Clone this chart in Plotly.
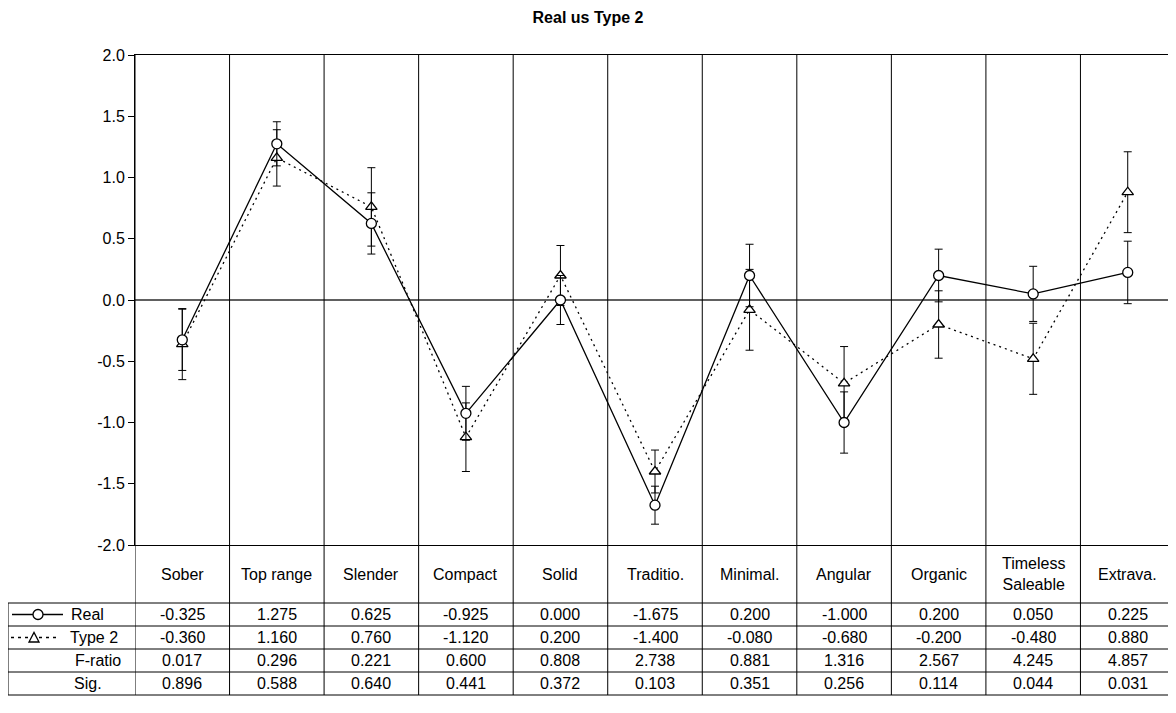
import plotly.graph_objects as go

categories = ["Sober", "Top range", "Slender", "Compact", "Solid", "Traditio.",
              "Minimal.", "Angular", "Organic", "Timeless<br>Saleable", "Extrava."]
real = [-0.325, 1.275, 0.625, -0.925, 0.000, -1.675, 0.200, -1.000, 0.200, 0.050, 0.225]
type2 = [-0.360, 1.160, 0.760, -1.120, 0.200, -1.400, -0.080, -0.680, -0.200, -0.480, 0.880]
f_ratio = [0.017, 0.296, 0.221, 0.600, 0.808, 2.738, 0.881, 1.316, 2.567, 4.245, 4.857]
sig = [0.896, 0.588, 0.640, 0.441, 0.372, 0.103, 0.351, 0.256, 0.114, 0.044, 0.031]
real_err = [0.25, 0.18, 0.25, 0.22, 0.20, 0.155, 0.255, 0.25, 0.215, 0.225, 0.255]
type2_err = [0.29, 0.23, 0.32, 0.28, 0.245, 0.175, 0.33, 0.30, 0.275, 0.29, 0.33]
y_ticks = [2.0, 1.5, 1.0, 0.5, 0.0, -0.5, -1.0, -1.5, -2.0]
y_tick_labels = ["2.0", "1.5", "1.0", "0.5", "0.0", "-0.5", "-1.0", "-1.5", "-2.0"]

OFF = 8                      # page body margin
W, H = 1176 - OFF, 713 - OFF
L, R, T, B = 135, 1175, 55, 545   # screen pixels of plot area
FONT = "Liberation Sans, Arial, sans-serif"
FS = 16

def px(X):
    return (X - L) / (R - L)

def py(Y):
    return (B - Y) / (B - T)

xs = list(range(len(categories)))

fig = go.Figure()
fig.add_trace(go.Scatter(
    x=xs, y=type2, mode="lines+markers", name="Type 2",
    line=dict(color="black", width=1.3, dash="2px,4px"),
    marker=dict(symbol="triangle-up", size=10, color="white",
                line=dict(color="black", width=1.3)),
    error_y=dict(type="data", array=type2_err, color="black", thickness=1, width=4),
))
fig.add_trace(go.Scatter(
    x=xs, y=real, mode="lines+markers", name="Real",
    line=dict(color="black", width=1.3),
    marker=dict(symbol="circle", size=10, color="white",
                line=dict(color="black", width=1.3)),
    error_y=dict(type="data", array=real_err, color="black", thickness=1, width=4),
))

shapes = []
for i in range(len(categories) + 1):
    shapes.append(dict(type="line", xref="x", yref="paper", x0=i - 0.5, x1=i - 0.5,
                       y0=1, y1=py(695), line=dict(color="black", width=1)))
row_lines = [603, 626, 649, 672, 695]
for Y in row_lines:
    shapes.append(dict(type="line", xref="paper", yref="paper", x0=px(8), x1=px(R),
                       y0=py(Y), y1=py(Y), line=dict(color="black", width=1)))
shapes.append(dict(type="line", xref="paper", yref="paper", x0=px(8), x1=px(8),
                   y0=py(603), y1=py(695), line=dict(color="black", width=1)))
yr = 614.5
shapes.append(dict(type="line", xref="paper", yref="paper", x0=px(12), x1=px(63),
                   y0=py(yr), y1=py(yr), line=dict(color="black", width=1.3)))
shapes.append(dict(type="circle", xref="paper", yref="paper",
                   x0=px(33), x1=px(43), y0=py(yr + 5), y1=py(yr - 5),
                   fillcolor="white", line=dict(color="black", width=1.3)))
yt = 637.5
shapes.append(dict(type="line", xref="paper", yref="paper", x0=px(11), x1=px(60),
                   y0=py(yt), y1=py(yt), line=dict(color="black", width=1.3, dash="3px,4px")))
tri = "M {} {} L {} {} L {} {} Z".format(px(29), py(yt + 4.5), px(39), py(yt + 4.5),
                                         px(34), py(yt - 5))
shapes.append(dict(type="path", xref="paper", yref="paper", path=tri,
                   fillcolor="white", line=dict(color="black", width=1.3)))

annotations = []
for i, c in enumerate(categories):
    annotations.append(dict(x=i, y=py(574), xref="x", yref="paper", text=c,
                            xanchor="center", yanchor="middle", showarrow=False,
                            font=dict(size=FS, color="black", family=FONT)))
rows = [(real, 614.5), (type2, 637.5), (f_ratio, 660.5), (sig, 683.5)]
for vals, Y in rows:
    for i, v in enumerate(vals):
        annotations.append(dict(x=i, y=py(Y), xref="x", yref="paper", text="{:.3f}".format(v),
                                xanchor="center", yanchor="middle", showarrow=False,
                                font=dict(size=FS, color="black", family=FONT)))
row_labels = [("Real", 69, "left", 614.5), ("Type 2", 68, "left", 637.5),
              ("F-ratio", 123, "right", 660.5), ("Sig.", 104, "right", 683.5)]
for txt, X, anc, Y in row_labels:
    annotations.append(dict(x=px(X), y=py(Y), xref="paper", yref="paper", text=txt,
                            xanchor=anc, yanchor="middle", showarrow=False,
                            font=dict(size=FS, color="black", family=FONT)))

fig.update_layout(
    width=W, height=H,
    margin=dict(l=L - OFF, r=W - (R - OFF), t=T - OFF, b=H - (B - OFF), pad=0),
    paper_bgcolor="white", plot_bgcolor="white",
    showlegend=False,
    title=dict(text="<b>Real us Type 2</b>", x=(588 - OFF) / W, xanchor="center",
               y=1 - (17 - OFF) / H, yanchor="middle",
               font=dict(size=16, color="black", family=FONT)),
    font=dict(family=FONT, size=FS, color="black"),
    shapes=shapes, annotations=annotations,
)
fig.update_xaxes(range=[-0.5, len(categories) - 0.5], showticklabels=False, showgrid=False,
                 zeroline=False, showline=True, linecolor="black", linewidth=1, mirror=True,
                 ticks="")
fig.update_yaxes(range=[-2, 2], tickvals=y_ticks, ticktext=y_tick_labels, showgrid=False,
                 zeroline=True, zerolinecolor="#606060", zerolinewidth=1.5,
                 showline=True, linecolor="black", linewidth=1, mirror=True,
                 ticks="outside", ticklen=6, tickcolor="black",
                 tickfont=dict(size=FS, color="black", family=FONT))

fig.write_html("out.html")
